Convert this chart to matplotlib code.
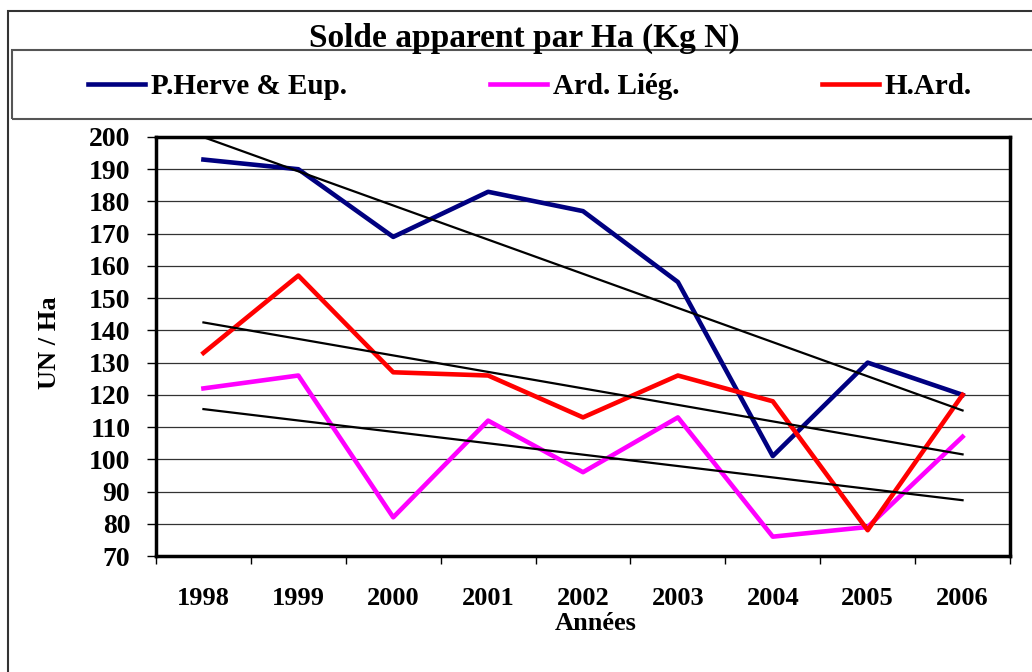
import numpy as np
import matplotlib
matplotlib.use("Agg")
import matplotlib.pyplot as plt
from matplotlib.patches import Rectangle

years = ["1998", "1999", "2000", "2001", "2002", "2003", "2004", "2005", "2006"]
herve = [193, 190, 169, 183, 177, 155, 101, 130, 120]
ard_lieg = [122, 126, 82, 112, 96, 113, 76, 79, 107]
h_ard = [133, 157, 127, 126, 113, 126, 118, 78, 120]
series_names = ["P.Herve & Eup.", "Ard. Liég.", "H.Ard."]
series_colors = ["#000080", "#FF00FF", "#FF0000"]

W, H = 1032, 672
plt.rcParams['font.family'] = ['Liberation Serif', 'DejaVu Serif']
plt.rcParams['font.weight'] = 'bold'

fig = plt.figure(figsize=(W / 100, H / 100), dpi=100)

def fx(px):
    return px / W

def fy(py):
    return 1 - py / H

# frames
fig.add_artist(Rectangle((fx(8), fy(700)), fx(1100) - fx(8), fy(11) - fy(700),
                         transform=fig.transFigure, fill=False, lw=1.5, ec="#333333"))
fig.add_artist(Rectangle((fx(12), fy(119)), fx(1100) - fx(12), fy(50) - fy(119),
                         transform=fig.transFigure, fill=False, lw=1.5, ec="#555555"))

fig.text(fx(524), fy(47), "Solde apparent par Ha (Kg N)", ha="center", va="baseline",
         fontsize=24, fontweight="bold")

left, right, top, bottom = 156, 1010, 137, 556
ax = fig.add_axes([fx(left), fy(bottom), fx(right) - fx(left), fy(top) - fy(bottom)])

x = np.arange(len(years))
handles = []
for vals, name, col in zip([herve, ard_lieg, h_ard], series_names, series_colors):
    h, = ax.plot(x, vals, color=col, lw=3.3, label=name, zorder=3)
    handles.append(h)
    k, b = np.polyfit(x, vals, 1)
    ax.plot(x, k * x + b, color="black", lw=1.6, zorder=4)

ax.set_xlim(-0.5, len(years) - 0.5)
ax.set_ylim(70, 200)
ax.set_yticks(np.arange(70, 201, 10))
ax.set_xticks(x)
ax.set_xticklabels(years)
ax.set_xticks(np.arange(-0.5, len(years), 1), minor=True)
ax.tick_params(axis="x", which="major", length=0, pad=22, labelsize=19)
ax.tick_params(axis="x", which="minor", length=6, width=1, direction="out")
ax.tick_params(axis="y", which="major", length=6.5, width=1, direction="out", pad=12, labelsize=20)
ax.grid(axis="y", color="#333333", lw=0.9, zorder=1)
for s in ax.spines.values():
    s.set_linewidth(2.5)
    s.set_color("black")
for lab in ax.get_xticklabels() + ax.get_yticklabels():
    lab.set_fontweight("bold")

fig.text(fx(596), fy(623), "Années", ha="center", va="center", fontsize=19, fontweight="bold")
fig.text(fx(50), fy(343), "UN / Ha", ha="center", va="center", rotation=90,
         fontsize=19, fontweight="bold")

fig.legend(handles=handles, loc="center", bbox_to_anchor=(fx(530), fy(87)), ncol=3,
           frameon=False, handlelength=1.95, handletextpad=0.2,
           columnspacing=4.9, prop={"weight": "bold", "size": 21})

fig.savefig("out.png", dpi=100)
